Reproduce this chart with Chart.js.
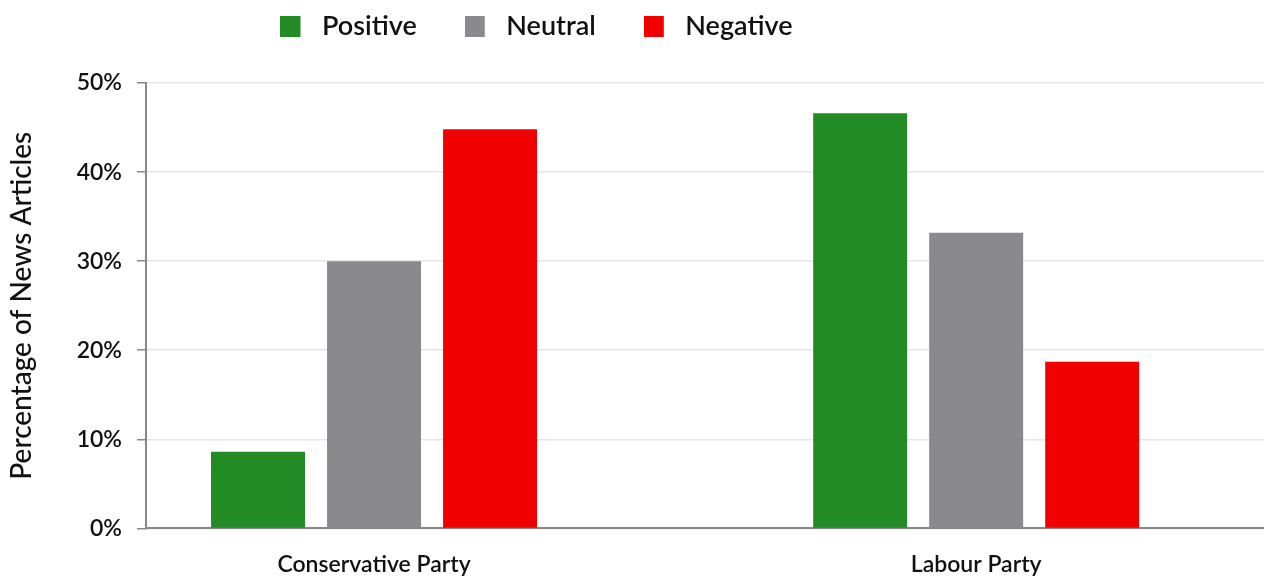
<!DOCTYPE html>
<html>
<head>
<meta charset="utf-8">
<script src="https://cdn.jsdelivr.net/npm/chart.js@4"></script>
<style>
  body { margin: 0; background: #fff; }
  #graph { display: block; }
</style>
</head>
<body>
<canvas id="graph" width="1264" height="576"></canvas>
<script>
const categories = ['Conservative Party', 'Labour Party'];
const seriesNames = ['Positive', 'Neutral', 'Negative'];
const positive = [8.6, 46.6];
const neutral = [30.0, 33.2];
const negative = [44.8, 18.7];
const yTicks = [0, 10, 20, 30, 40, 50];
const colors = ['rgb(34, 139, 38)', 'rgb(138, 137, 142)', 'rgb(240, 0, 0)'];

const canva = document.getElementById('graph');
const fontFamily = 'Lato, "Noto Sans", sans-serif';
const fontWeight = '600';

function points(values) {
    return values.map((v, i) => ({ x: i, y: v }));
}

// square swatch with empty room on its right, so the legend text sits further away
function swatch(color) {
    const c = document.createElement('canvas');
    c.width = 28;
    c.height = 21;
    const g = c.getContext('2d');
    g.fillStyle = color;
    g.fillRect(0, 0, 20, 21);
    return c;
}
const swatches = colors.map(swatch);

// legend sits high and left of centre: fix its box height and row width
const legendFit = {
    id: 'legendFit',
    afterInit(chart) {
        const fit = chart.legend.fit;
        chart.legend.fit = function () {
            fit.call(this);
            this.height = 118;
            if (this.lineWidths && this.lineWidths.length) this.lineWidths[0] += 196;
        };
    }
};

const data = {
    datasets: [positive, neutral, negative].map((vals, i) => ({
        label: seriesNames[i],
        backgroundColor: colors[i],
        data: points(vals),
    }))
};

const config = {
    type: 'bar',
    data,
    plugins: [legendFit],
    options: {
        responsive: false,
        animation: false,
        categoryPercentage: 0.578,
        barPercentage: 0.81,
        layout: { padding: { left: 5, right: 0, top: -35, bottom: -24 } },
        plugins: {
            tooltip: { enabled: false },
            legend: {
                position: 'top',
                labels: {
                    usePointStyle: true,
                    pointStyleWidth: 28,
                    boxHeight: 21,
                    padding: 48,
                    color: '#111',
                    font: { family: fontFamily, size: 27, weight: fontWeight },
                    generateLabels: (chart) =>
                        Chart.defaults.plugins.legend.labels.generateLabels(chart)
                            .map((item, i) => ({ ...item, pointStyle: swatches[i] }))
                }
            }
        },
        scales: {
            x: {
                type: 'linear',
                min: -0.3787,
                max: 1.478,
                offset: false,
                afterBuildTicks: (scale) => {
                    scale.ticks = categories.map((c, i) => ({ value: i }));
                },
                grid: { display: false, drawTicks: false, offset: false },
                border: { display: true, color: '#888', width: 2 },
                ticks: {
                    padding: 22,
                    color: '#111',
                    font: { family: fontFamily, size: 23, weight: fontWeight },
                    callback: (v) => categories[v]
                }
            },
            y: {
                min: 0,
                max: 50,
                afterBuildTicks: (scale) => {
                    scale.ticks = yTicks.map(v => ({ value: v }));
                },
                afterFit: (scale) => { scale.width = 141; },
                grid: { color: '#e6e6e6', lineWidth: 1.5, tickColor: '#888', tickLength: 9 },
                border: { display: true, color: '#888', width: 2 },
                ticks: {
                    padding: 15,
                    color: '#111',
                    font: { family: fontFamily, size: 23, weight: fontWeight },
                    callback: (v) => v + '%'
                },
                title: {
                    display: true,
                    text: 'Percentage of News Articles',
                    color: '#111',
                    padding: { top: 0, bottom: 0 },
                    font: { family: fontFamily, size: 28, weight: '500' }
                }
            }
        }
    }
};

var chart = new Chart(canva, config);
</script>
</body>
</html>
